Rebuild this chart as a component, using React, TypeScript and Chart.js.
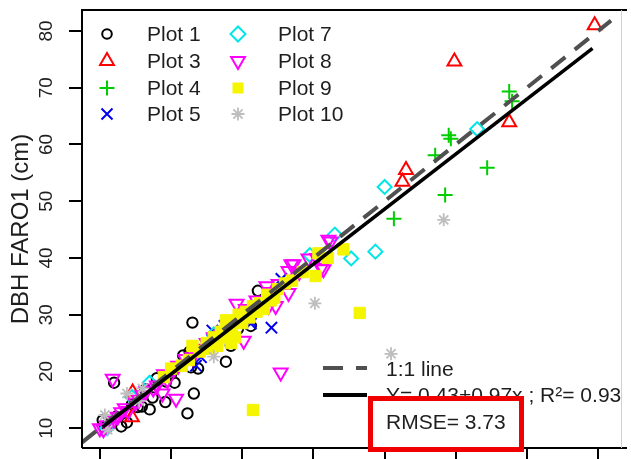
import React, { useEffect, useRef } from "react";
import { Chart, registerables } from "chart.js";

Chart.register(...registerables);

const W = 631;
const H = 459;
const FONT = '"Liberation Sans", Arial, sans-serif';
const TEXT = "#1e1e1e";

// ---------- data ----------
const seriesNames = ["Plot 1", "Plot 3", "Plot 4", "Plot 5", "Plot 7", "Plot 8", "Plot 9", "Plot 10"];

const plot1X = [10.4, 11.0, 10.7, 13.0, 13.8, 12.0, 15.3, 15.9, 17.0, 17.4, 18.0, 19.3, 20.5, 19.2, 21.7, 22.8, 22.3, 23.2, 23.0, 22.6, 23.8, 27.7, 28.4, 29.4, 31.2, 32.2, 14.5, 16.4, 20.0, 12.3];
const plot1Y = [11.4, 10.5, 10.0, 10.3, 11.0, 18.0, 13.7, 13.8, 13.3, 15.4, 18.8, 18.2, 18.0, 14.6, 22.8, 20.7, 12.6, 16.1, 28.6, 23.5, 20.5, 21.7, 24.5, 27.5, 28.0, 34.2, 14.2, 16.8, 19.5, 12.0];

const plot3X = [14.6, 14.5, 52.5, 53.0, 59.8, 67.5, 79.5];
const plot3Y = [16.3, 11.9, 53.4, 55.5, 74.6, 63.9, 81.0];

const plot4X = [67.5, 67.9, 59.0, 59.3, 57.1, 64.4, 58.5, 51.3];
const plot4Y = [69.3, 67.6, 61.6, 61.0, 58.1, 55.9, 51.1, 46.9];

const plot5X = [34.1, 31.2, 35.5, 25.8, 23.5, 24.2, 30.5, 32.5, 27.5, 31.2];
const plot5Y = [27.7, 28.4, 36.3, 27.2, 21.0, 22.5, 30.5, 31.5, 28.0, 28.9];

const plot7X = [50.0, 63.0, 43.0, 48.7, 45.3, 39.5, 17.0, 14.5, 11.0, 26.0];
const plot7Y = [52.5, 62.7, 44.1, 41.1, 39.9, 40.5, 18.0, 15.5, 10.0, 26.5];

const plot8X = [11.8, 20.7, 18.8, 30.2, 35.4, 42.1, 39.3, 41.4, 36.9, 36.5, 35.1, 33.7, 34.7, 29.2, 33.4, 36.5, 37.2, 40.5, 41.1, 42.4, 10.0, 10.5, 11.0, 11.5, 12.0, 12.5, 13.0, 13.5, 14.0, 15.0, 15.5, 16.0, 16.5, 17.5, 18.0, 19.0, 19.5, 21.0, 22.0, 23.0, 24.0, 25.0, 26.0, 27.0, 28.0, 30.5, 31.0, 32.0, 38.0, 34.0];
const plot8Y = [18.7, 15.2, 16.1, 25.4, 19.8, 43.2, 39.9, 38.0, 38.9, 37.7, 35.4, 31.5, 31.5, 31.9, 35.0, 33.8, 38.9, 40.0, 38.2, 42.9, 10.0, 9.8, 10.5, 11.2, 11.5, 12.0, 12.8, 13.5, 13.0, 14.5, 15.0, 15.8, 16.5, 17.0, 17.5, 19.5, 18.5, 21.0, 22.2, 22.5, 24.0, 25.0, 26.0, 26.5, 28.0, 31.0, 30.0, 32.5, 37.5, 34.0];

const plot9X = [21.5, 22.5, 24.0, 25.0, 25.5, 26.0, 26.5, 27.0, 27.5, 28.0, 28.5, 29.0, 29.5, 30.0, 30.5, 31.0, 31.5, 32.0, 32.5, 33.0, 33.5, 34.0, 35.0, 36.0, 37.0, 38.5, 40.3, 40.7, 44.2, 46.5, 31.5, 20.0, 19.0, 23.0, 27.7, 29.0, 34.5, 42.0, 26.5, 28.4];
const plot9Y = [21.0, 22.0, 23.5, 25.0, 24.0, 26.0, 25.5, 27.0, 26.0, 28.5, 27.5, 29.0, 30.0, 28.5, 30.5, 29.5, 31.5, 30.5, 32.0, 31.0, 33.5, 32.5, 34.5, 35.5, 36.0, 37.5, 36.8, 40.8, 41.5, 30.3, 13.2, 20.5, 19.0, 24.5, 29.0, 26.0, 33.0, 40.0, 24.5, 25.0];

const plot10X = [58.3, 40.2, 50.9, 26.0, 11.1, 13.8, 10.7, 16.0, 15.5];
const plot10Y = [46.7, 32.0, 23.1, 22.6, 9.7, 16.1, 12.3, 17.0, 14.8];

const oneToOneX = [7.5, 81.8];
const oneToOneY = [7.5, 81.8];
const regX = [10.4, 79.2];
const regY = [10.2, 76.9];

const yTickValues = [10, 20, 30, 40, 50, 60, 70, 80];
const xTickValues = [10, 20, 30, 40, 50, 60, 70, 80];

const yTitle = "DBH FARO1 (cm)";
const legendLine1 = "1:1 line";
const legendLine2 = "Y= 0.43+0.97x ; R²= 0.93";
const rmseText = "RMSE= 3.73";

// ---------- styles ----------
const seriesX = [plot1X, plot3X, plot4X, plot5X, plot7X, plot8X, plot9X, plot10X];
const seriesY = [plot1Y, plot3Y, plot4Y, plot5Y, plot7Y, plot8Y, plot9Y, plot10Y];
const colors = ["#000000", "#ff0000", "#00cd00", "#0000ee", "#00e5e5", "#ff00ff", "#f5f500", "#bebebe"];
const kinds = ["circle", "tri", "plus", "x", "diamond", "triDown", "square", "star"];

function styleFor(kind: string, color: string) {
  const none = "rgba(0,0,0,0)";
  switch (kind) {
    case "circle": return { pointStyle: "circle", radius: 5.2, bg: none, bw: 2, rot: 0 };
    case "tri": return { pointStyle: "triangle", radius: 8, bg: none, bw: 2, rot: 0 };
    case "plus": return { pointStyle: "cross", radius: 7.5, bg: none, bw: 2, rot: 0 };
    case "x": return { pointStyle: "crossRot", radius: 8, bg: none, bw: 2, rot: 0 };
    case "diamond": return { pointStyle: "rectRot", radius: 7, bg: none, bw: 2, rot: 0 };
    case "triDown": return { pointStyle: "triangle", radius: 8, bg: none, bw: 2, rot: 180 };
    case "square": return { pointStyle: "rect", radius: 8, bg: color, bw: 1, rot: 0 };
    default: return { pointStyle: "star", radius: 6.5, bg: none, bw: 1.8, rot: 0 };
  }
}

function drawSym(ctx: CanvasRenderingContext2D, kind: string, x: number, y: number, color: string) {
  ctx.save();
  ctx.strokeStyle = color;
  ctx.fillStyle = color;
  ctx.lineWidth = 2;
  ctx.beginPath();
  let r = 7;
  switch (kind) {
    case "circle":
      ctx.arc(x, y, 4.8, 0, Math.PI * 2);
      ctx.stroke();
      break;
    case "tri":
      r = 8;
      ctx.moveTo(x, y - r);
      ctx.lineTo(x + r * 0.866, y + r * 0.5);
      ctx.lineTo(x - r * 0.866, y + r * 0.5);
      ctx.closePath();
      ctx.stroke();
      break;
    case "triDown":
      r = 8;
      ctx.moveTo(x, y + r);
      ctx.lineTo(x + r * 0.866, y - r * 0.5);
      ctx.lineTo(x - r * 0.866, y - r * 0.5);
      ctx.closePath();
      ctx.stroke();
      break;
    case "plus":
      r = 7.5;
      ctx.moveTo(x - r, y); ctx.lineTo(x + r, y);
      ctx.moveTo(x, y - r); ctx.lineTo(x, y + r);
      ctx.stroke();
      break;
    case "x":
      r = 5.5;
      ctx.moveTo(x - r, y - r); ctx.lineTo(x + r, y + r);
      ctx.moveTo(x + r, y - r); ctx.lineTo(x - r, y + r);
      ctx.stroke();
      break;
    case "diamond":
      r = 7.5;
      ctx.moveTo(x, y - r); ctx.lineTo(x + r, y); ctx.lineTo(x, y + r); ctx.lineTo(x - r, y);
      ctx.closePath();
      ctx.stroke();
      break;
    case "square":
      ctx.fillRect(x - 5.5, y - 5.5, 11, 11);
      break;
    default:
      r = 6.5;
      ctx.lineWidth = 1.8;
      ctx.moveTo(x - r, y); ctx.lineTo(x + r, y);
      ctx.moveTo(x, y - r); ctx.lineTo(x, y + r);
      const d = r * 0.707;
      ctx.moveTo(x - d, y - d); ctx.lineTo(x + d, y + d);
      ctx.moveTo(x + d, y - d); ctx.lineTo(x - d, y + d);
      ctx.stroke();
  }
  ctx.restore();
}

const decorPlugin = {
  id: "decor",
  afterDraw(chart: any) {
    const ctx: CanvasRenderingContext2D = chart.ctx;
    const a = chart.chartArea;
    const ys = chart.scales.y;
    ctx.save();

    // box
    ctx.strokeStyle = "#000";
    ctx.lineWidth = 2;
    ctx.beginPath();
    ctx.moveTo(a.left, a.bottom);
    ctx.lineTo(a.left, a.top);
    ctx.lineTo(a.right + 6, a.top);
    ctx.moveTo(a.left, a.bottom);
    ctx.lineTo(a.right + 6, a.bottom);
    ctx.stroke();
    ctx.strokeStyle = "#d0d0d0";
    ctx.lineWidth = 1;
    ctx.beginPath();
    ctx.moveTo(a.right + 0.5, a.top);
    ctx.lineTo(a.right + 0.5, a.bottom);
    ctx.stroke();

    // y tick labels (rotated, R style)
    ctx.fillStyle = TEXT;
    ctx.font = `19px ${FONT}`;
    ctx.textAlign = "center";
    ctx.textBaseline = "middle";
    for (const v of yTickValues) {
      const py = ys.getPixelForValue(v);
      ctx.save();
      ctx.translate(47, py);
      ctx.rotate(-Math.PI / 2);
      ctx.fillText(String(v), 0, 0);
      ctx.restore();
    }

    // y title
    ctx.font = `24px ${FONT}`;
    ctx.save();
    ctx.translate(21, (a.top + a.bottom) / 2);
    ctx.rotate(-Math.PI / 2);
    ctx.fillText(yTitle, 0, 0);
    ctx.restore();

    // top-left legend
    ctx.font = `21px ${FONT}`;
    ctx.textAlign = "left";
    const rowY = [34, 61, 88, 114];
    for (let i = 0; i < seriesNames.length; i++) {
      const col = Math.floor(i / 4);
      const row = i % 4;
      const sx = col === 0 ? 107 : 238;
      const tx = col === 0 ? 147 : 278;
      drawSym(ctx, kinds[i], sx, rowY[row], colors[i]);
      ctx.fillStyle = TEXT;
      ctx.fillText(seriesNames[i], tx, rowY[row] + 1);
    }

    // bottom-right legend
    ctx.save();
    ctx.strokeStyle = "#505050";
    ctx.lineWidth = 4;
    ctx.setLineDash([20, 13]);
    ctx.beginPath();
    ctx.moveTo(323, 368);
    ctx.lineTo(367, 368);
    ctx.stroke();
    ctx.setLineDash([]);
    ctx.strokeStyle = "#000";
    ctx.lineWidth = 4;
    ctx.beginPath();
    ctx.moveTo(323, 395);
    ctx.lineTo(367, 395);
    ctx.stroke();
    ctx.restore();
    ctx.fillStyle = TEXT;
    ctx.fillText(legendLine1, 386, 370);
    ctx.fillText(legendLine2, 386, 396);

    // red RMSE box
    ctx.fillStyle = "#ffffff";
    ctx.fillRect(370, 398, 152, 52);
    ctx.strokeStyle = "#f00000";
    ctx.lineWidth = 5;
    ctx.strokeRect(370.5, 398.5, 151, 51);
    ctx.fillStyle = TEXT;
    ctx.fillText(rmseText, 386, 423);

    ctx.restore();
  },
};

export default function App() {
  const ref = useRef<HTMLCanvasElement | null>(null);

  useEffect(() => {
    document.body.style.margin = "0";
    document.body.style.overflow = "hidden";
    const canvas = ref.current;
    if (!canvas) return;

    const pointSets: any[] = seriesNames.map((name, i) => {
      const st = styleFor(kinds[i], colors[i]);
      return {
        label: name,
        data: seriesX[i].map((x, j) => ({ x, y: seriesY[i][j] })),
        showLine: false,
        pointStyle: st.pointStyle,
        pointRadius: st.radius,
        pointRotation: st.rot,
        pointBackgroundColor: st.bg,
        pointBorderColor: colors[i],
        pointBorderWidth: st.bw,
        order: 10 - i,
      };
    });

    const lineSets: any[] = [
      {
        label: "1:1",
        data: oneToOneX.map((x, j) => ({ x, y: oneToOneY[j] })),
        showLine: true,
        borderColor: "#505050",
        borderWidth: 4,
        borderDash: [18, 12],
        pointRadius: 0,
        fill: false,
        order: 1,
      },
      {
        label: "fit",
        data: regX.map((x, j) => ({ x, y: regY[j] })),
        showLine: true,
        borderColor: "#000000",
        borderWidth: 3.5,
        pointRadius: 0,
        fill: false,
        order: 0,
      },
    ];

    const chart = new Chart(canvas, {
      type: "scatter",
      data: { datasets: [...lineSets, ...pointSets] },
      options: {
        responsive: false,
        animation: false,
        devicePixelRatio: 1,
        layout: { padding: { top: 7, right: 6, left: 0, bottom: 0 } },
        plugins: { legend: { display: false }, tooltip: { enabled: false } },
        scales: {
          x: {
            type: "linear",
            position: "bottom",
            min: 7.49,
            max: 83.2,
            afterBuildTicks: (s: any) => { s.ticks = xTickValues.map((v) => ({ value: v })); },
            afterFit: (s: any) => { s.height = 11; },
            ticks: { display: false },
            border: { display: false },
            grid: { drawOnChartArea: false, drawTicks: true, tickLength: 11, color: "#000", lineWidth: 2 },
          },
          y: {
            type: "linear",
            position: "left",
            min: 6.5,
            max: 83.68,
            afterBuildTicks: (s: any) => { s.ticks = yTickValues.map((v) => ({ value: v })); },
            afterFit: (s: any) => { s.width = 82; },
            ticks: { display: false },
            border: { display: false },
            grid: { drawOnChartArea: false, drawTicks: true, tickLength: 13, color: "#000", lineWidth: 2 },
          },
        },
      },
      plugins: [decorPlugin],
    });

    return () => chart.destroy();
  }, []);

  return (
    <div style={{ width: W, height: H, background: "#fff" }}>
      <canvas ref={ref} width={W} height={H} style={{ width: W, height: H, display: "block" }} />
    </div>
  );
}
